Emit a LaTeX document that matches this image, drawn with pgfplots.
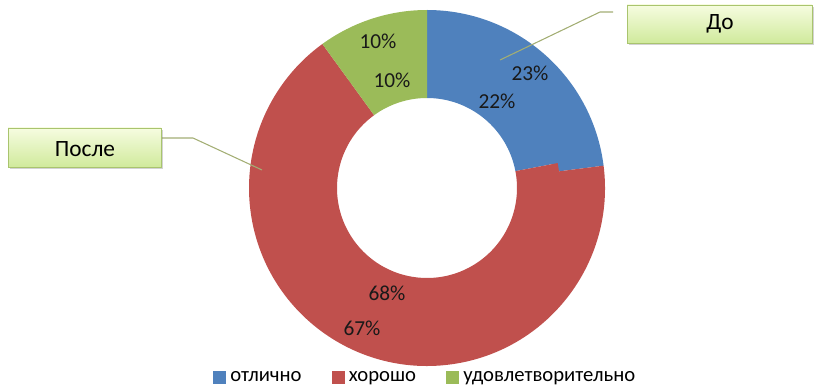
\documentclass[border=0pt]{standalone}
\usepackage{pgfplots}
\pgfplotsset{compat=1.18}
\usepackage{fontspec}
\setmainfont{Carlito}
\usetikzlibrary{shadows}

\definecolor{cblue}{HTML}{4F81BD}
\definecolor{cred}{HTML}{C0504D}
\definecolor{cgreen}{HTML}{9BBB59}
\definecolor{cline}{HTML}{A3AE74}
\definecolor{boxtop}{HTML}{F6FCE0}
\definecolor{boxbot}{HTML}{D0EA9C}
\definecolor{boxdraw}{HTML}{A9C46E}

% color, start (percent), value (percent), inner radius (pt), outer radius (pt)
\newcommand{\donutpart}[5]{%
  \fill[#1, shift={(axis cs:427,201)}]
    ({90-3.6*(#2)}:#5pt) arc[start angle={90-3.6*(#2)}, delta angle={-3.6*(#3)}, radius=#5pt]
    -- ({90-3.6*(#2+#3)}:#4pt) arc[start angle={90-3.6*(#2+#3)}, delta angle={3.6*(#3)}, radius=#4pt]
    -- cycle;}

\begin{document}
\begin{tikzpicture}
\begin{axis}[
  x=0.75pt, y=0.75pt,
  xmin=0, xmax=821, ymin=0, ymax=389,
  hide axis, clip=false,
  legend columns=3,
  legend style={at={(0.5195,0.029)}, anchor=center, draw=none, fill=none,
    font=\fontsize{15.5}{17}\selectfont,
    /tikz/every even column/.append style={column sep=19pt},
    nodes={inner xsep=3.5pt, inner ysep=0pt}},
]
% outer ring: До (23, 67, 10)
\donutpart{cblue}{0}{23}{97}{133.5}
\donutpart{cred}{23}{67}{97}{133.5}
\donutpart{cgreen}{90}{10}{97}{133.5}
% inner ring: После (22, 68, 10)
\donutpart{cblue}{0}{22}{67.5}{99.75}
\donutpart{cred}{22}{68}{67.5}{99.75}
\donutpart{cgreen}{90}{10}{67.5}{99.75}

\addlegendimage{legend image code/.code={\fill[cblue] (0pt,-4.5pt) rectangle (9pt,4.5pt);}}
\addlegendentry{отлично}
\addlegendimage{legend image code/.code={\fill[cred] (0pt,-4.5pt) rectangle (9pt,4.5pt);}}
\addlegendentry{хорошо}
\addlegendimage{legend image code/.code={\fill[cgreen] (0pt,-4.5pt) rectangle (9pt,4.5pt);}}
\addlegendentry{удовлетворительно}

\begin{scope}[font=\fontsize{16}{18}\selectfont, text=black!90]
\node at (axis cs:530,316) {23\%};
\node at (axis cs:497,288) {22\%};
\node at (axis cs:378,348) {10\%};
\node at (axis cs:392,309) {10\%};
\node at (axis cs:387,96) {68\%};
\node at (axis cs:362,61) {67\%};
\end{scope}

% callouts
\draw[cline, line width=0.8pt] (axis cs:613,377) -- (axis cs:600,377) -- (axis cs:500,329);
\draw[cline, line width=0.8pt] (axis cs:162,251) -- (axis cs:193,251) -- (axis cs:262,219);
\draw[boxdraw, line width=0.6pt, top color=boxtop, bottom color=boxbot,
      drop shadow={shadow xshift=1.2pt, shadow yshift=-1.8pt, opacity=0.35}]
  (axis cs:627,346) rectangle (axis cs:812,384);
\node[font=\fontsize{17.5}{19}\selectfont] at (axis cs:720,365) {До};
\draw[boxdraw, line width=0.6pt, top color=boxtop, bottom color=boxbot,
      drop shadow={shadow xshift=1.2pt, shadow yshift=-1.8pt, opacity=0.35}]
  (axis cs:8,222) rectangle (axis cs:161,261);
\node[font=\fontsize{17.5}{19}\selectfont] at (axis cs:85,240) {После};

\path (axis cs:0,0) coordinate (ll) (axis cs:821,389) coordinate (ur);
\end{axis}
\pgfresetboundingbox
\useasboundingbox (ll) rectangle (ur);
\end{tikzpicture}
\end{document}
